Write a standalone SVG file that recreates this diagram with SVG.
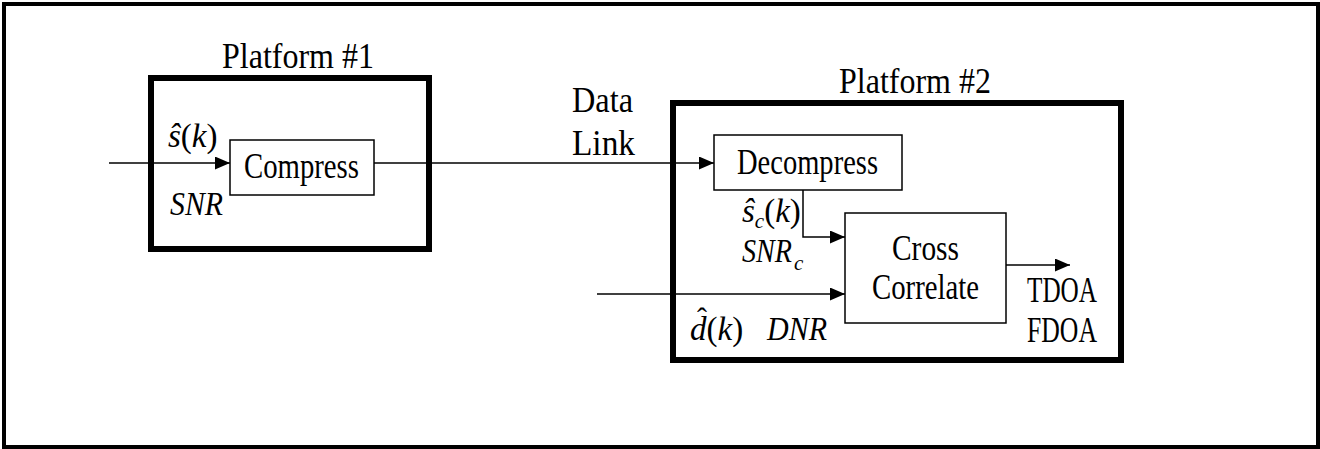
<svg xmlns="http://www.w3.org/2000/svg" width="1320" height="449" viewBox="0 0 1320 449">
  <style>
    .t { font-family: "Liberation Serif", "Times New Roman", serif; font-size: 36px; fill: #000; }
    .m { font-family: "Liberation Serif", "Times New Roman", serif; font-size: 33px; fill: #000; }
    .i { font-style: italic; }
    .sub { font-family: "Liberation Serif", "Times New Roman", serif; font-size: 21px; font-style: italic; fill: #000; }
    .hat { font-size: 30px; font-style: normal; }
    .platform { fill: none; stroke: #000; stroke-width: 6; }
    .block { fill: #fff; stroke: #000; stroke-width: 1.5; }
    .wire { fill: none; stroke: #000; stroke-width: 1.5; }
  </style>
  <defs>
    <marker id="arrow" viewBox="0 0 15 13" refX="15" refY="6.5" markerWidth="15" markerHeight="13" markerUnits="userSpaceOnUse" orient="auto">
      <path d="M0,0 L15,6.5 L0,13 Z" fill="#000"/>
    </marker>
  </defs>

  <rect x="0" y="0" width="1320" height="449" fill="#fff"/>
  <!-- outer frame -->
  <rect x="4" y="4" width="1314" height="443" fill="none" stroke="#000" stroke-width="4"/>

  <!-- Platform #1 -->
  <g id="platform1">
    <rect class="platform" x="151" y="78" width="278" height="171"/>
    <text class="t" x="222" y="68" textLength="152" lengthAdjust="spacingAndGlyphs">Platform #1</text>
  </g>

  <!-- Platform #2 -->
  <g id="platform2">
    <rect class="platform" x="673" y="103" width="448" height="257"/>
    <text class="t" x="839" y="93" textLength="152" lengthAdjust="spacingAndGlyphs">Platform #2</text>
  </g>

  <!-- signal paths -->
  <g id="connectors">
    <line class="wire" x1="109" y1="163" x2="230" y2="163" marker-end="url(#arrow)"/>
    <line class="wire" x1="374" y1="163" x2="714" y2="163" marker-end="url(#arrow)"/>
    <polyline class="wire" points="803,190 803,237 845,237" marker-end="url(#arrow)"/>
    <line class="wire" x1="597" y1="294" x2="845" y2="294" marker-end="url(#arrow)"/>
    <line class="wire" x1="1006" y1="265" x2="1070" y2="265" marker-end="url(#arrow)"/>
  </g>

  <g id="compress">
    <rect class="block" x="230" y="140" width="144" height="55"/>
    <text class="t" x="244" y="178" textLength="115" lengthAdjust="spacingAndGlyphs">Compress</text>
  </g>

  <g id="decompress">
    <rect class="block" x="714" y="135" width="188" height="55"/>
    <text class="t" x="737" y="174" textLength="141" lengthAdjust="spacingAndGlyphs">Decompress</text>
  </g>

  <g id="cross-correlate">
    <rect class="block" x="845" y="213" width="161" height="110"/>
    <text class="t" x="892" y="260" textLength="67" lengthAdjust="spacingAndGlyphs">Cross</text>
    <text class="t" x="872" y="299" textLength="107" lengthAdjust="spacingAndGlyphs">Correlate</text>
  </g>

  <!-- link label -->
  <g id="data-link-label">
    <text class="t" x="572" y="112" textLength="61" lengthAdjust="spacingAndGlyphs">Data</text>
    <text class="t" x="572" y="155" textLength="63" lengthAdjust="spacingAndGlyphs">Link</text>
  </g>

  <!-- outputs -->
  <g id="outputs">
    <text class="t" x="1027" y="302" textLength="70" lengthAdjust="spacingAndGlyphs">TDOA</text>
    <text class="t" x="1027" y="342" textLength="70" lengthAdjust="spacingAndGlyphs">FDOA</text>
  </g>

  <!-- signal annotations -->
  <g id="input-labels">
    <text class="m" x="168" y="147"><tspan class="i">ŝ</tspan>(<tspan class="i">k</tspan>)</text>
    <text class="m i" x="170" y="215" textLength="53" lengthAdjust="spacingAndGlyphs">SNR</text>
  </g>

  <g id="compressed-labels">
    <text class="m" x="742" y="222"><tspan class="i">ŝ</tspan><tspan class="sub" dy="6">c</tspan><tspan dy="-6">(</tspan><tspan class="i">k</tspan>)</text>
    <text class="m i" x="742" y="262" textLength="50" lengthAdjust="spacingAndGlyphs">SNR</text>
    <text class="sub" x="794" y="270">c</text>
  </g>

  <g id="reference-labels">
    <text class="m" x="690" y="340"><tspan class="i">d</tspan>(<tspan class="i">k</tspan>)<tspan class="hat" x="697" y="328">ˆ</tspan></text>
    <text class="m i" x="767" y="340" textLength="60" lengthAdjust="spacingAndGlyphs">DNR</text>
  </g>
</svg>
